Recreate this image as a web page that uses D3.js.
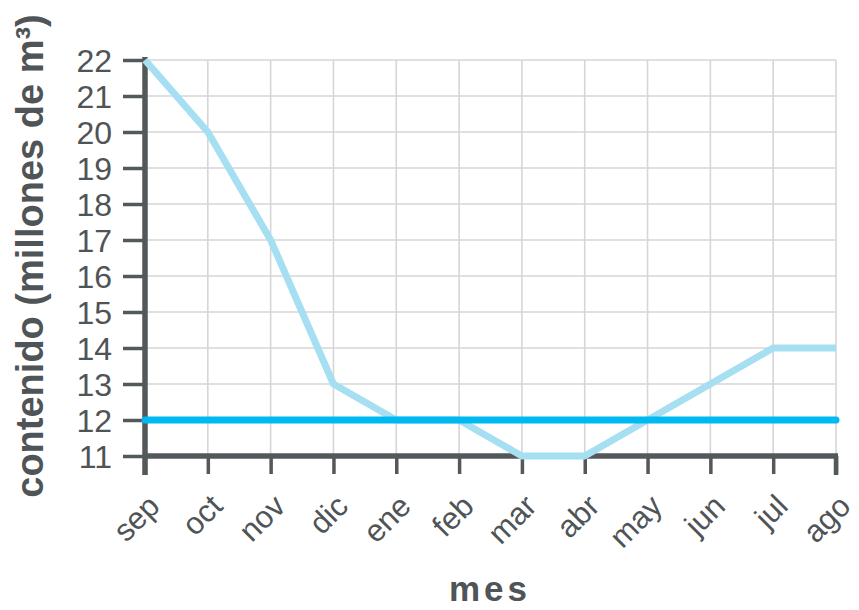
<!DOCTYPE html>
<html>
<head>
<meta charset="utf-8">
<script src="https://cdn.jsdelivr.net/npm/d3@7"></script>
<style>
  html, body { margin: 0; padding: 0; background: #ffffff; }
  svg { display: block; }
</style>
</head>
<body>
<svg id="chart" width="859" height="610"></svg>
<script>
const months = ["sep","oct","nov","dic","ene","feb","mar","abr","may","jun","jul","ago"];
const contenido = [22, 20, 17, 13, 12, 12, 11, 11, 12, 13, 14, 14];
const referencia = [12, 12, 12, 12, 12, 12, 12, 12, 12, 12, 12, 12];
const yTicks = [11, 12, 13, 14, 15, 16, 17, 18, 19, 20, 21, 22];
const yTitle = "contenido (millones de m³)";
const xTitle = "mes";

(function () {
const svg = d3.select("#chart");
const pLeft = 145, pRight = 836, pTop = 60, pBottom = 456;
const axisColor = "#53585b";
const textColor = "#4f5457";

const x = d3.scalePoint().domain(months).range([pLeft, pRight]);
const y = d3.scaleLinear().domain([11, 22]).range([pBottom, pTop]);

// grid
const grid = svg.append("g");
grid.selectAll("line.h").data(yTicks.filter(d => d > 11)).enter().append("line")
  .attr("x1", pLeft).attr("x2", pRight)
  .attr("y1", d => y(d)).attr("y2", d => y(d))
  .attr("stroke", "#d6d6d6").attr("stroke-width", 1.6);
grid.selectAll("line.v").data(months.slice(1)).enter().append("line")
  .attr("x1", d => x(d)).attr("x2", d => x(d))
  .attr("y1", pTop).attr("y2", pBottom)
  .attr("stroke", "#d6d6d6").attr("stroke-width", 1.6);

// y axis
const yAxis = svg.append("g").attr("transform", `translate(${pLeft},0)`)
  .call(d3.axisLeft(y).tickValues(yTicks).tickSize(22).tickPadding(11).tickFormat(d3.format("d")));
yAxis.select(".domain").remove();
yAxis.selectAll(".tick line").attr("stroke", axisColor).attr("stroke-width", 3.5);
yAxis.selectAll(".tick text")
  .attr("fill", textColor)
  .style("font-family", "'Liberation Sans', Arial, sans-serif")
  .style("font-size", "32px")
  .attr("dy", "0.36em");

// x axis
const xAxis = svg.append("g").attr("transform", `translate(0,${pBottom})`)
  .call(d3.axisBottom(x).tickSize(18).tickPadding(0));
xAxis.select(".domain").remove();
xAxis.selectAll(".tick line").attr("stroke", axisColor).attr("stroke-width", 3.5);
xAxis.selectAll(".tick text")
  .attr("fill", textColor)
  .style("font-family", "'Liberation Sans', Arial, sans-serif")
  .style("font-size", "31px")
  .attr("text-anchor", "end")
  .attr("dy", 0)
  .attr("y", 0)
  .attr("transform", "translate(16,52) rotate(-45)");

// axis lines
svg.append("line").attr("x1", pLeft).attr("x2", pLeft).attr("y1", pTop - 3).attr("y2", pBottom + 19)
  .attr("stroke", axisColor).attr("stroke-width", 5.5);
svg.append("line").attr("x1", pLeft - 2).attr("x2", pRight + 2).attr("y1", pBottom).attr("y2", pBottom)
  .attr("stroke", axisColor).attr("stroke-width", 5.5);
svg.append("line").attr("x1", pRight).attr("x2", pRight).attr("y1", pBottom).attr("y2", pBottom + 19)
  .attr("stroke", axisColor).attr("stroke-width", 4.5);

// series
const line = d3.line().x((d, i) => x(months[i])).y(d => y(d));
svg.append("path").datum(contenido)
  .attr("d", line).attr("fill", "none")
  .attr("stroke", "#a6dff1").attr("stroke-width", 7)
  .attr("stroke-linejoin", "round").attr("stroke-linecap", "butt");
svg.append("path").datum(referencia)
  .attr("d", line).attr("fill", "none")
  .attr("stroke", "#00b9f1").attr("stroke-width", 7)
  .attr("stroke-linejoin", "round").attr("stroke-linecap", "round");

// titles
svg.append("text")
  .attr("transform", `translate(43,256) rotate(-90)`)
  .attr("text-anchor", "middle")
  .attr("fill", textColor)
  .style("font-family", "'Liberation Sans', Arial, sans-serif")
  .style("font-weight", "bold")
  .style("font-size", "38px")
  .text(yTitle);

svg.append("text")
  .attr("x", 490).attr("y", 601)
  .attr("text-anchor", "middle")
  .attr("fill", textColor)
  .style("font-family", "'Liberation Sans', Arial, sans-serif")
  .style("font-weight", "bold")
  .style("font-size", "35px")
  .style("letter-spacing", "4px")
  .text(xTitle);
})();
</script>
</body>
</html>
